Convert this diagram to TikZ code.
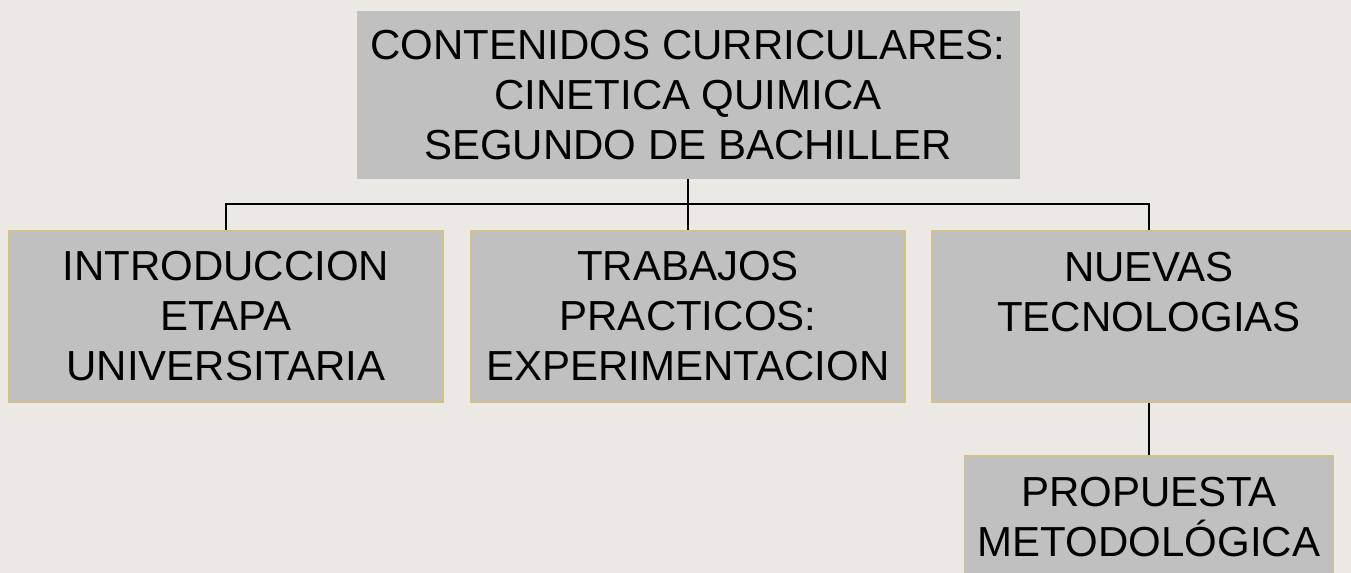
\documentclass[tikz,border=0pt]{standalone}
\usepackage{fontspec}
\setmainfont{Liberation Sans}
\usepackage{tikz}

\definecolor{fondo}{HTML}{ECE8E3}
\definecolor{caja}{HTML}{C0C0C0}
\definecolor{borde}{HTML}{D1C28C}

\begin{document}
\begin{tikzpicture}[x=0.75pt, y=0.75pt,
  cajatexto/.style={fill=caja, inner sep=0pt, align=center,
    font=\fontsize{31.5pt}{37.5pt}\selectfont},
  rama/.style={cajatexto, draw=borde, line width=1.1pt,
    minimum width=325.5pt, minimum height=128.25pt},
  linea/.style={line width=1.2pt}]
\clip (0,0) rectangle (1351,573);
\fill[fondo] (0,0) rectangle (1351,573);

\node[cajatexto, minimum width=497.25pt, minimum height=126pt] (cont) at (688,478) {CONTENIDOS CURRICULARES:\\CINETICA QUIMICA\\SEGUNDO DE BACHILLER};
\node[rama] (intro) at (226,256.5) {INTRODUCCION\\ETAPA\\UNIVERSITARIA};
\node[rama] (trab) at (688,256.5) {TRABAJOS\\PRACTICOS:\\EXPERIMENTACION};
\node[rama] (nuevas) at (1149,256.5) {NUEVAS\\TECNOLOGIAS\\~};
\node[rama, minimum width=276.75pt] (prop) at (1149,31.5) {PROPUESTA\\METODOLÓGICA\\~};

\draw[linea] (cont.south) -- ++(0,-25) -| (intro.north);
\draw[linea] (cont.south) -- (trab.north);
\draw[linea] (cont.south) -- ++(0,-25) -| (nuevas.north);
\draw[linea] (nuevas.south) -- (prop.north);
\end{tikzpicture}
\end{document}
